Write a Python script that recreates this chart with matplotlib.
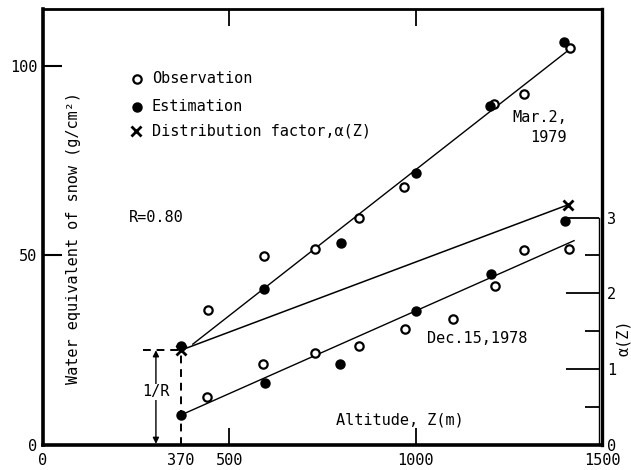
import matplotlib
matplotlib.use("Agg")
import matplotlib.pyplot as plt
from matplotlib.ticker import FixedLocator, NullFormatter

plt.rcParams['font.family'] = ['DejaVu Sans Mono', 'DejaVu Sans']

# ---- data ----
mar_obs_z = [443, 592, 729, 849, 970, 1211, 1291, 1414]
mar_obs_w = [35.6, 49.9, 51.8, 59.8, 68.0, 90.0, 92.5, 104.7]
mar_est_z = [370, 592, 800, 1001, 1200, 1398]
mar_est_w = [26.2, 41.1, 53.2, 71.7, 89.3, 106.2]
mar_fit_z = [402, 1407]
mar_fit_w = [26.6, 103.9]

dec_obs_z = [440, 591, 729, 849, 972, 1099, 1213, 1291, 1412]
dec_obs_w = [12.6, 21.3, 24.2, 26.2, 30.7, 33.2, 42.0, 51.5, 51.8]
dec_est_z = [370, 597, 797, 1000, 1202, 1400]
dec_est_w = [7.9, 16.3, 21.4, 35.3, 45.1, 59.1]
dec_fit_z = [370, 1425]
dec_fit_w = [7.9, 53.9]

alpha_z = [370, 1410]
alpha_v = [1.25, 3.17]
R = 0.80
W_PER_ALPHA = 20.0

xticks = [0, 500, 1000, 1500]
xtick_extra = [370]
yticks = [0, 50, 100]
alpha_ticks = [0, 1, 2, 3]
alpha_minor = [0.5, 1.5, 2.5]

FS = 11

fig = plt.figure(figsize=(6.31, 4.70), dpi=100)
ax = fig.add_axes([43/631, 1-445/470, (602-43)/631, (445-9)/470])
ax.set_xlim(0, 1500)
ax.set_ylim(0, 115)

# spines
for s, lw in [('left', 2.6), ('bottom', 2.6), ('top', 2.0), ('right', 2.4)]:
    ax.spines[s].set_linewidth(lw)

# ticks
ax.xaxis.set_major_locator(FixedLocator(xticks))
ax.xaxis.set_minor_locator(FixedLocator(xtick_extra))
ax.set_xticklabels([str(v) for v in xticks], fontsize=FS)
ax.xaxis.set_minor_formatter(matplotlib.ticker.FixedFormatter([str(v) for v in xtick_extra]))
ax.tick_params(axis='x', which='minor', length=0, labelsize=FS, pad=6)
ax.tick_params(axis='x', which='major', direction='in', length=12.5, width=1.3,
               top=True, pad=6, labelsize=FS)
ax.set_yticks(yticks)
ax.set_yticklabels([str(v) for v in yticks], fontsize=FS)
ax.tick_params(axis='y', which='major', direction='in', length=14, width=1.5,
               right=True, pad=4, labelsize=FS)
# right side ticks shorter
for t in ax.yaxis.get_major_ticks():
    t.tick2line.set_markersize(10)

# fitted lines
ax.plot(mar_fit_z, mar_fit_w, color='black', lw=1.0)
ax.plot(dec_fit_z, dec_fit_w, color='black', lw=1.0)
ax.plot(alpha_z, [a * W_PER_ALPHA for a in alpha_v], color='black', lw=1.1)

# points
okw = dict(ls='none', marker='o', ms=6, mfc='white', mec='black', mew=1.6, zorder=5)
fkw = dict(ls='none', marker='o', ms=6.5, mfc='black', mec='black', zorder=5)
ax.plot(mar_obs_z, mar_obs_w, **okw)
ax.plot(dec_obs_z, dec_obs_w, **okw)
ax.plot(mar_est_z, mar_est_w, **fkw)
ax.plot(dec_est_z, dec_est_w, **fkw)
ax.plot(alpha_z, [a * W_PER_ALPHA for a in alpha_v], ls='none', marker='x',
        ms=7, mew=2.0, color='black', zorder=6)

# dashed guides for 1/R
base_w = W_PER_ALPHA / R
ax.plot([268, alpha_z[0]], [base_w, base_w], color='black', lw=1.4, ls=(0, (4, 3)))
ax.plot([alpha_z[0], alpha_z[0]], [0, base_w], color='black', lw=1.4, ls=(0, (4, 3)))
ax.annotate('', xy=(303, base_w), xytext=(303, 0.3),
            arrowprops=dict(arrowstyle='<|-|>', color='black', lw=1.0,
                            mutation_scale=9, shrinkA=0, shrinkB=0))
ax.text(303, 14, '1/R', ha='center', va='center', fontsize=FS,
        bbox=dict(facecolor='white', edgecolor='none', pad=0.5))

# legend (manual)
ax.plot([252], [96.6], **okw)
ax.plot([252], [89.2], **fkw)
ax.plot([250], [82.9], ls='none', marker='x', ms=7, mew=2.0, color='black')
ax.text(292, 96.6, 'Observation', va='center', ha='left', fontsize=FS)
ax.text(292, 89.2, 'Estimation', va='center', ha='left', fontsize=FS)
ax.text(292, 82.9, 'Distribution factor,α(Z)', va='center', ha='left', fontsize=FS)

# annotations
ax.text(230, 59.9, 'R=0.80', va='center', ha='left', fontsize=FS)
ax.text(1406, 86.5, 'Mar.2,', va='center', ha='right', fontsize=FS)
ax.text(1406, 81.2, '1979', va='center', ha='right', fontsize=FS)
ax.text(1031, 28.0, 'Dec.15,1978', va='center', ha='left', fontsize=FS)
ax.text(785, 6.6, 'Altitude, Z(m)', va='center', ha='left', fontsize=FS)
ax.text(83, 54.5, 'Water equivalent of snow (g/cm²)', rotation=90,
        va='center', ha='center', fontsize=FS)

# secondary alpha axis
ax2 = ax.twinx()
ax2.set_ylim(0, 115 / W_PER_ALPHA)
ax2.set_yticks(alpha_ticks)
ax2.set_yticklabels([str(v) for v in alpha_ticks], fontsize=FS)
ax2.yaxis.set_minor_locator(FixedLocator(alpha_minor))
ax2.yaxis.set_minor_formatter(NullFormatter())
ax2.tick_params(axis='y', which='major', direction='in', length=24, width=1.3,
                pad=6, labelsize=FS)
ax2.tick_params(axis='y', which='minor', direction='in', length=10, width=1.3)
for s in ['left', 'top', 'bottom']:
    ax2.spines[s].set_visible(False)
ax2.spines['right'].set_bounds(0, 3)
ax2.spines['right'].set_linewidth(1.0)
ax2.spines['right'].set_position(('outward', -2.5))

fig.text(616/631, 1 - 338/470, 'α(Z)', rotation=90, ha='left', va='center', fontsize=FS)

fig.savefig('out.png', dpi=100)
